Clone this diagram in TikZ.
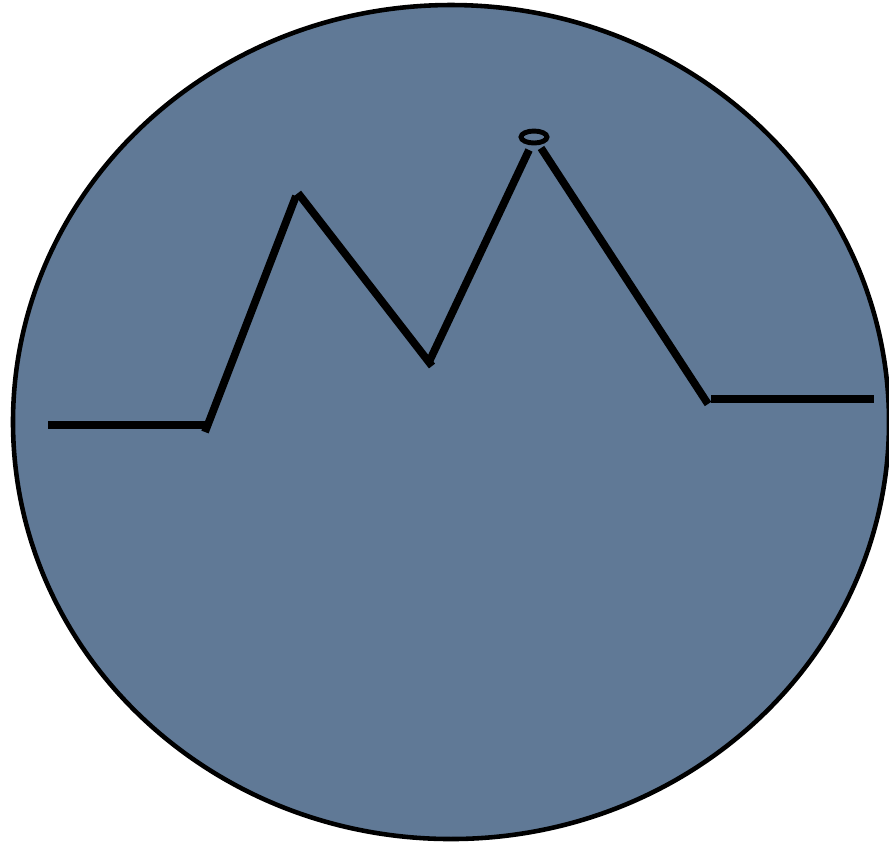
\documentclass[tikz,border=0pt]{standalone}
\usepackage{tikz}
\usetikzlibrary{positioning}

\definecolor{slate}{RGB}{96,121,150}

\begin{document}
\begin{tikzpicture}[x=0.01cm, y=-0.01cm,
      disc/.style={draw=black, fill=slate, line width=1.3pt},
      trace/.style={line width=2.2pt, line cap=butt},
      ring/.style={draw=black, line width=1.4pt}]

    \useasboundingbox (0,0) rectangle (889,844);

    % === background disc ===
    \path[disc] (451,422) ellipse [x radius=438, y radius=417];

    % === trace points ===
    \coordinate (la) at (48,425);
    \coordinate (lb) at (206,425);
    \coordinate (pa) at (205,432);
    \coordinate (pb) at (296,196);
    \coordinate (qa) at (298,193);
    \coordinate (qb) at (432,366);
    \coordinate (ra) at (429,362);
    \coordinate (rb) at (529,150);
    \coordinate (sa) at (541,148);
    \coordinate (sb) at (708,404);
    \coordinate (ta) at (711,399);
    \coordinate (tb) at (874,399);

    % === zigzag ===
    \draw[trace] (la) -- (lb);
    \draw[trace] (pa) -- (pb);
    \draw[trace] (qa) -- (qb);
    \draw[trace] (ra) -- (rb);
    \draw[trace] (sa) -- (sb);
    \draw[trace] (ta) -- (tb);

    % === small ring on top ===
    \draw[ring] (534,137) ellipse [x radius=13, y radius=6];

\end{tikzpicture}
\end{document}
